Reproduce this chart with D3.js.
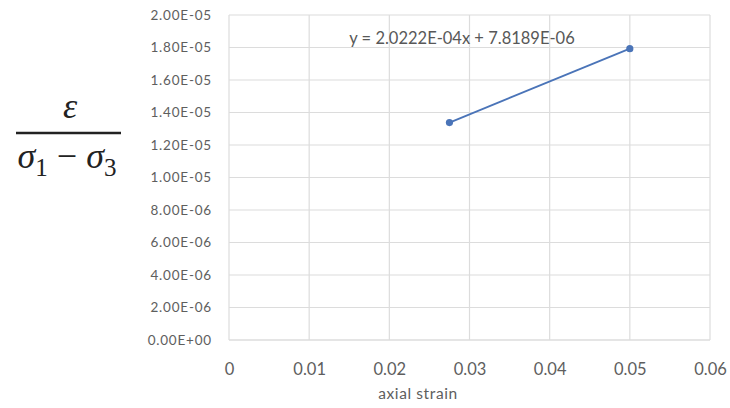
<!DOCTYPE html>
<html>
<head>
<meta charset="utf-8">
<script src="https://cdn.jsdelivr.net/npm/d3@7"></script>
<style>
  body { margin: 0; background: #fff; }
  svg { display: block; }
</style>
</head>
<body>
<script>
(function(){
    var strain = [0.0275, 0.05];
    var compliance = [1.338e-5, 1.793e-5];
    var xTicks = [0, 0.01, 0.02, 0.03, 0.04, 0.05, 0.06];
    var yTicks = [0, 2e-6, 4e-6, 6e-6, 8e-6, 1e-5, 1.2e-5, 1.4e-5, 1.6e-5, 1.8e-5, 2e-5];
    var trendText = "y = 2.0222E-04x + 7.8189E-06";

    var width = 730,
        height = 408;
    var left = 229, right = 710, top = 15, bottom = 340;
    var font = "Lato, 'Open Sans', sans-serif";
    var textColor = "#5e5e5e";

    var svg = d3.select("body").append("svg")
                .attr("width", width)
                .attr("height", height);

    var x = d3.scaleLinear().domain([0, 0.06]).range([left, right]);
    var y = d3.scaleLinear().domain([0, 2e-5]).range([bottom, top]);

    // grid
    svg.append("g").selectAll("line").data(yTicks).enter().append("line")
        .attr("x1", left).attr("x2", right)
        .attr("y1", function(d){ return y(d); })
        .attr("y2", function(d){ return y(d); })
        .attr("stroke", function(d){ return d === 0 ? "#cccccc" : "#dcdcdc"; })
        .attr("stroke-width", 1.2);

    svg.append("g").selectAll("line").data(xTicks).enter().append("line")
        .attr("y1", top).attr("y2", bottom)
        .attr("x1", function(d){ return x(d); })
        .attr("x2", function(d){ return x(d); })
        .attr("stroke", "#dcdcdc")
        .attr("stroke-width", 1.2);

    // axes (labels only)
    var yAxis = d3.axisLeft(y).tickValues(yTicks).tickSize(0).tickPadding(17)
        .tickFormat(function(d){
            var s = d.toExponential(2).toUpperCase();
            return s.replace(/E([+-])(\d)$/, "E$10$2");
        });
    var gy = svg.append("g").attr("transform", "translate(" + left + ",0)").call(yAxis);
    gy.select(".domain").remove();
    gy.selectAll("text")
      .attr("fill", textColor)
      .style("font-family", font)
      .style("font-size", "13.5px")
      .style("letter-spacing", "0.8px");

    var xAxis = d3.axisBottom(x).tickValues(xTicks).tickSize(0).tickPadding(23)
        .tickFormat(function(d){ return d === 0 ? "0" : d3.format(".2f")(d); });
    var gx = svg.append("g").attr("transform", "translate(0," + bottom + ")").call(xAxis);
    gx.select(".domain").remove();
    gx.selectAll("text")
      .attr("fill", textColor)
      .style("font-family", font)
      .style("font-size", "16.5px");

    svg.append("text")
        .attr("x", 418)
        .attr("y", 399)
        .attr("text-anchor", "middle")
        .attr("fill", textColor)
        .style("font-family", font)
        .style("font-size", "15.5px")
        .style("letter-spacing", "0.6px")
        .text("axial strain");

    // data line
    var pts = strain.map(function(d, i){ return [d, compliance[i]]; });
    svg.append("path")
        .datum(pts)
        .attr("d", d3.line().x(function(d){ return x(d[0]); }).y(function(d){ return y(d[1]); }))
        .attr("fill", "none")
        .attr("stroke", "#4a74b8")
        .attr("stroke-width", 1.8);

    svg.append("g").selectAll("circle").data(pts).enter().append("circle")
        .attr("cx", function(d){ return x(d[0]); })
        .attr("cy", function(d){ return y(d[1]); })
        .attr("r", 3.6)
        .attr("fill", "#4a74b8");

    // trendline label
    svg.append("text")
        .attr("x", 462)
        .attr("y", 44)
        .attr("text-anchor", "middle")
        .attr("fill", "#585858")
        .style("font-family", font)
        .style("font-size", "16.5px")
        .text(trendText);

    // y label as a fraction
    var frac = svg.append("g").style("font-family", "'Liberation Serif', 'DejaVu Serif', serif").attr("fill", "#222");
    frac.append("text")
        .attr("x", 70).attr("y", 118)
        .attr("text-anchor", "middle")
        .style("font-size", "36px")
        .style("font-style", "italic")
        .text("ε");
    frac.append("line")
        .attr("x1", 16).attr("x2", 121)
        .attr("y1", 133).attr("y2", 133)
        .attr("stroke", "#222").attr("stroke-width", 2.5);
    var den = frac.append("text")
        .attr("x", 67).attr("y", 168)
        .attr("text-anchor", "middle")
        .style("font-size", "36px");
    den.append("tspan").style("font-style", "italic").text("σ");
    den.append("tspan").attr("dy", 8).style("font-size", "25px").text("1");
    den.append("tspan").attr("dy", -8).text(" − ");
    den.append("tspan").style("font-style", "italic").text("σ");
    den.append("tspan").attr("dy", 8).style("font-size", "25px").text("3");
})();
</script>
</body>
</html>
